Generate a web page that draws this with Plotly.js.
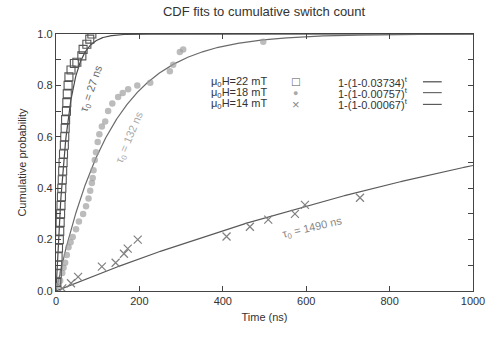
<!DOCTYPE html>
<html><head><meta charset="utf-8">
<script src="https://cdn.plot.ly/plotly-3.0.1.min.js"></script>
<style>html,body{margin:0;padding:0;background:#fff}#c{width:489px;height:338px}</style>
</head><body><div id="c"></div>
<script>
// 22 mT data (time ns, cumulative probability)
const t22 = [2,3,4,5,6,8,9,10,11,12,13,14,15,16,17,18,20,21,22,23,25,26,27,29,31,36,44,50,62,65,74,81,86];
const p22 = [0.033,0.067,0.10,0.133,0.167,0.20,0.233,0.267,0.30,0.333,0.367,0.40,0.433,0.467,0.50,0.533,0.567,0.60,0.633,0.667,0.70,0.733,0.767,0.80,0.833,0.86,0.885,0.89,0.915,0.94,0.96,0.98,1.0];
// 18 mT data
const t18 = [5,10,15,18,22,26,30,35,40,48,55,65,72,78,82,86,88,90,93,96,100,104,110,118,125,135,149,160,173,195,226,273,281,297,305,497];
const p18 = [0.02,0.04,0.07,0.09,0.11,0.14,0.17,0.19,0.21,0.24,0.27,0.30,0.33,0.36,0.39,0.42,0.44,0.47,0.51,0.54,0.58,0.61,0.64,0.66,0.70,0.73,0.755,0.77,0.785,0.80,0.81,0.855,0.88,0.93,0.94,0.97];
// 14 mT data
const t14 = [15,36,53,110,143,163,172,196,409,465,509,573,597,729];
const p14 = [0.01,0.03,0.055,0.095,0.11,0.145,0.165,0.20,0.212,0.25,0.278,0.30,0.335,0.363];
// fit parameters: 1-(1-p)^t
const fitP = [0.03734, 0.00757, 0.00067];
const fitLabels = ["1-(1-0.03734)<sup>t</sup>","1-(1-0.00757)<sup>t</sup>","1-(1-0.00067)<sup>t</sup>"];
const fieldLabels = ["μ<sub>0</sub>H=22 mT","μ<sub>0</sub>H=18 mT","μ<sub>0</sub>H=14 mT"];
const tauLabels = ["τ<sub>0</sub> = 27 ns","τ<sub>0</sub> = 132 ns","τ<sub>0</sub> = 1490 ns"];
const xTicks = [0,200,400,600,800,1000];

const tGrid = [];
for (let t = 0; t <= 1000; t += 1) tGrid.push(t);
const fitColors = ['#4a4a4a','#6a6a6a','#5a5a5a'];
const traces = [];
fitP.forEach((p,i)=>{
  traces.push({x:tGrid, y:tGrid.map(t=>1-Math.pow(1-p,t)), mode:'lines',
    line:{color:fitColors[i], width:1.2}, hoverinfo:'skip', showlegend:false});
});
traces.push({x:t18,y:p18,mode:'markers',marker:{symbol:'circle',size:6.5,color:'rgba(160,160,160,0.7)'},showlegend:false});
traces.push({x:t14,y:p14,mode:'markers',marker:{symbol:'x-thin-open',size:8,color:'#808080',line:{color:'#808080',width:1.2}},showlegend:false});
traces.push({x:t22,y:p22,mode:'markers',marker:{symbol:'square-open',size:8,color:'#555',line:{color:'#555',width:1.1}},showlegend:false});

const font = {family:'Liberation Sans, Arial, sans-serif', color:'#333'};
const ann = [];
const rowY = [0.814, 0.772, 0.726];
const symTxt = ['□','●','×'];
const symColor = ['#555','#aaa','#888'];
const shapes = [];
for (let i=0;i<3;i++){
  ann.push({xref:'paper',yref:'paper',x:0.368,y:rowY[i],xanchor:'left',yanchor:'middle',text:fieldLabels[i],showarrow:false,font:{...font,size:11}});
  ann.push({xref:'paper',yref:'paper',x:0.575,y:rowY[i],xanchor:'center',yanchor:'middle',text:symTxt[i],showarrow:false,font:{...font,size:i==1?9:13,color:symColor[i]}});
  ann.push({xref:'paper',yref:'paper',x:0.672,y:rowY[i],xanchor:'left',yanchor:'middle',text:fitLabels[i],showarrow:false,font:{...font,size:11}});
  shapes.push({type:'line',xref:'paper',yref:'paper',x0:0.88,x1:0.925,y0:rowY[i],y1:rowY[i],line:{color:fitColors[i],width:1.2}});
}
ann.push({x:86,y:0.79,text:tauLabels[0],textangle:-71,showarrow:false,font:{...font,size:11,color:'#666'}});
ann.push({x:177,y:0.60,text:tauLabels[1],textangle:-67,showarrow:false,font:{...font,size:11,color:'#aaa'}});
ann.push({x:614,y:0.246,text:tauLabels[2],textangle:-13,showarrow:false,font:{...font,size:11,color:'#888'}});

const axCommon = {showgrid:false, zeroline:false, showline:true, mirror:'ticks', linecolor:'#444', linewidth:1.3,
  ticks:'inside', ticklen:5, tickcolor:'#444', tickfont:{...font,size:11}};
const layout = {
  width:489,height:338,margin:{l:56,r:16,t:34,b:47},
  paper_bgcolor:'#fff',plot_bgcolor:'#fff',showlegend:false,
  title:{text:'CDF fits to cumulative switch count',x:0.54,xanchor:'center',y:0.965,yanchor:'middle',font:{...font,size:13}},
  xaxis:{...axCommon,range:[0,1000],tickvals:xTicks,title:{text:'Time (ns)',font:{...font,size:11},standoff:6}},
  yaxis:{...axCommon,range:[0,1.0],dtick:0.2,tickformat:'.1f',minor:{dtick:0.1,ticks:'inside',ticklen:5,tickcolor:'#444'},
    title:{text:'Cumulative probability',font:{...font,size:11},standoff:8}},
  annotations:ann, shapes:shapes
};
Plotly.newPlot('c',traces,layout,{displayModeBar:false});
</script></body></html>
